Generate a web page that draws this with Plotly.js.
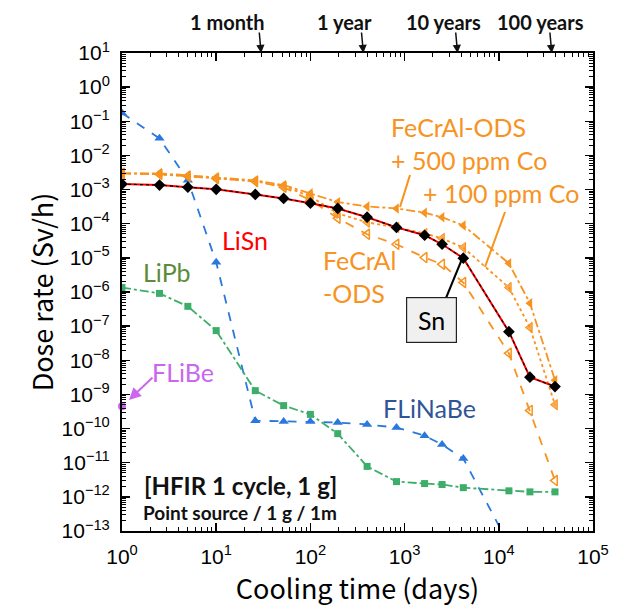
<!DOCTYPE html>
<html>
<head>
<meta charset="utf-8">
<script src="https://cdn.plot.ly/plotly-3.0.1.min.js"></script>
<style>html,body{margin:0;padding:0;background:#fff}#chart{width:631px;height:610px}</style>
</head>
<body>
<div id="chart"></div>
<script>
// ---- data (cooling time in days, dose rate in Sv/h) ----
const coolingDays = [1, 2.5, 5, 10, 26, 52, 100, 195, 400, 820, 1630, 2500, 4200, 12800, 21400, 39500];
const lisnDose    = [1.45e-3, 1.35e-3, 1.17e-3, 1.02e-3, 7.2e-4, 5.5e-4, 4.0e-4, 2.8e-4, 1.55e-4, 7.8e-5, 4.6e-5, 2.5e-5, 9.8e-6, 6.9e-8, 3.2e-9, 1.7e-9];
const snDose      = [1.45e-3, 1.35e-3, 1.17e-3, 1.02e-3, 7.2e-4, 5.5e-4, 4.0e-4, 2.8e-4, 1.55e-4, 7.8e-5, 4.6e-5, 2.5e-5, 9.8e-6, 6.9e-8, 3.2e-9, 1.7e-9];
const fecral500Dose = [3.0e-3, 3.0e-3, 2.6e-3, 2.3e-3, 1.86e-3, 1.35e-3, 7.8e-4, 4.3e-4, 3.2e-4, 2.8e-4, 2.1e-4, 1.55e-4, 8.9e-5, 6.9e-6, 4.7e-7, 2.6e-9];
const fecral100Dose = [3.0e-3, 2.8e-3, 2.45e-3, 2.1e-3, 1.74e-3, 1.26e-3, 6.3e-4, 2.0e-4, 1.1e-4, 7.8e-5, 5.2e-5, 3.7e-5, 2.0e-5, 1.35e-6, 9.1e-8, 5.0e-10];
const fecralDose    = [3.0e-3, 2.8e-3, 2.45e-3, 2.1e-3, 1.74e-3, 1.17e-3, 4.9e-4, 1.45e-4, 4.9e-5, 2.5e-5, 1.02e-5, 6.5e-6, 1.9e-6, 1.6e-8, 3.4e-10, 3.0e-12];
const lipbDose      = [1.35e-6, 9.1e-7, 3.8e-7, 7.4e-8, 1.29e-9, 4.7e-10, 2.6e-10, 7.1e-11, 7.8e-12, 2.8e-12, 2.45e-12, 2.3e-12, 1.86e-12, 1.5e-12, 1.4e-12, 1.4e-12];
const flinabeDays   = [1, 2.5, 5, 10, 26, 52, 100, 195, 400, 820, 1630, 2500, 4200, 12800];
const flinabeDose   = [0.174, 0.0316, 1.86e-3, 7.4e-6, 1.7e-10, 1.62e-10, 1.62e-10, 1.5e-10, 1.32e-10, 1.07e-10, 6.2e-11, 3.4e-11, 1.32e-11, 4e-14];
const flibeDays = [1];
const flibeDose = [4.5e-10];

const yExponents = [1,0,-1,-2,-3,-4,-5,-6,-7,-8,-9,-10,-11,-12,-13];
const xExponents = [0,1,2,3,4,5];
const milestoneLabels = ['1 month', '1 year', '10 years', '100 years'];
const milestoneDays   = [30, 365, 3650, 36500];

// ---- styles ----
const ORANGE = '#F7931E';
const RED = '#FF0000';
const BLUE = '#2A78DE';
const GREEN = '#3DAE6A';

const traces = [
  {x: flinabeDays, y: flinabeDose, mode: 'lines+markers', name: 'FLiNaBe',
   line: {color: BLUE, width: 1.8, dash: 'dash'}, marker: {symbol: 'triangle-up', size: 9, color: BLUE}},
  {x: coolingDays, y: lipbDose, mode: 'lines+markers', name: 'LiPb',
   line: {color: GREEN, width: 1.8, dash: 'dashdot'}, marker: {symbol: 'square', size: 7, color: GREEN}},
  {x: coolingDays, y: fecralDose, mode: 'lines+markers', name: 'FeCrAl-ODS',
   line: {color: ORANGE, width: 1.8, dash: 'dash'}, marker: {symbol: 'triangle-left-open', size: 9, color: ORANGE, line: {width: 1.5, color: ORANGE}}},
  {x: coolingDays, y: fecral100Dose, mode: 'lines+markers', name: '+ 100 ppm Co',
   line: {color: ORANGE, width: 1.8, dash: 'dot'}, marker: {symbol: 'triangle-left', size: 9, color: 'rgba(247,147,30,0.75)', line: {width: 1, color: ORANGE}}},
  {x: coolingDays, y: fecral500Dose, mode: 'lines+markers', name: '+ 500 ppm Co',
   line: {color: ORANGE, width: 1.8, dash: 'dashdot'}, marker: {symbol: 'triangle-left', size: 9, color: ORANGE}},
  {x: coolingDays, y: lisnDose, mode: 'lines', name: 'LiSn',
   line: {color: RED, width: 2}},
  {x: coolingDays, y: snDose, mode: 'lines+markers', name: 'Sn',
   line: {color: '#000', width: 1.2, dash: 'dot'}, marker: {symbol: 'diamond', size: 9, color: '#000'}},
  {x: flibeDays, y: flibeDose, mode: 'markers', name: 'FLiBe', cliponaxis: false,
   marker: {symbol: 'circle', size: 8, color: '#CC66EE'}}
];

// pixel helpers for plot-area (paper) coordinates
const PL = 122, PR = 593, PT = 53, PB = 531;
const px = v => (v - PL) / (PR - PL);
const py = v => (PB - v) / (PB - PT);

const labelFont = {family: 'Lato, "Noto Sans", sans-serif', size: 25};
function lab(x, y, text, color, extra) {
  return Object.assign({xref: 'paper', yref: 'paper', x: px(x), y: py(y), text: text, showarrow: false,
    xanchor: 'center', yanchor: 'middle', font: Object.assign({}, labelFont, {color: color})}, extra || {});
}
const annotations = [
  lab(245, 240, 'LiSn', RED),
  lab(167, 272, 'LiPb', '#5B8C3A'),
  lab(183, 372, 'FLiBe', '#CC66EE'),
  lab(429, 408, 'FLiNaBe', '#2F5597'),
  lab(389, 143, 'FeCrAl-ODS<br>+ 500 ppm Co', ORANGE, {xanchor: 'left', align: 'left'}),
  lab(421, 193, '+ 100 ppm Co', ORANGE, {xanchor: 'left'}),
  lab(321, 276, 'FeCrAl<br>-ODS', ORANGE, {xanchor: 'left', align: 'left'}),
  lab(431.5, 320, 'Sn', '#000', {bgcolor: '#F0F0F0', bordercolor: '#222', borderwidth: 1.2, width: 47, height: 42, borderpad: 1}),
  lab(142, 485, '<b>[HFIR 1 cycle, 1 g]</b>', '#111', {xanchor: 'left', font: {family: 'Lato, sans-serif', size: 24, color: '#111'}}),
  lab(141, 512, '<b>Point source / 1 g / 1m</b>', '#111', {xanchor: 'left', font: {family: 'Lato, sans-serif', size: 19, color: '#111'}}),
  // FLiBe arrow
  {xref: 'paper', yref: 'paper', x: px(129), y: py(400), ax: 25, ay: -24, text: '', showarrow: true,
   arrowhead: 2, arrowsize: 1.2, arrowwidth: 2, arrowcolor: '#CC66EE'}
];
// milestone labels and arrows on top
const textCenters = [227, 344, 443, 540];
milestoneLabels.forEach((m, i) => {
  annotations.push(lab(textCenters[i], 22, '<b>' + m + '</b>', '#111', {font: {family: 'Lato, sans-serif', size: 20, color: '#111'}}));
  annotations.push({xref: 'x', yref: 'paper', x: Math.log10(milestoneDays[i]), y: 1, ax: -2, ay: -22, text: '', showarrow: true,
    arrowhead: 2, arrowsize: 1.1, arrowwidth: 1.5, arrowcolor: '#111'});
});

const shapes = [
  {type: 'line', xref: 'paper', yref: 'paper', x0: px(410), y0: py(175), x1: px(400), y1: py(207), line: {color: ORANGE, width: 2}},
  {type: 'line', xref: 'paper', yref: 'paper', x0: px(505), y0: py(212), x1: px(485), y1: py(267), line: {color: ORANGE, width: 2}},
  {type: 'line', xref: 'paper', yref: 'paper', x0: px(446), y0: py(298), x1: px(462), y1: py(259), line: {color: '#000', width: 2}}
];

const tickFont = {family: '"Liberation Sans", Arial, sans-serif', size: 21, color: '#000'};
const layout = {
  width: 631, height: 610,
  margin: {l: PL, r: 631 - PR, t: PT, b: 610 - PB},
  paper_bgcolor: '#fff', plot_bgcolor: '#fff',
  showlegend: false,
  xaxis: {
    type: 'log', range: [0, 5], showgrid: false, zeroline: false,
    showline: true, linecolor: '#000', linewidth: 2, mirror: 'allticks',
    ticks: 'inside', ticklen: 8, tickwidth: 1.5, tickcolor: '#000',
    tickvals: xExponents.map(e => Math.pow(10, e)),
    ticktext: xExponents.map(e => '10<sup>' + e + '</sup>'),
    tickfont: tickFont, ticklabelstandoff: 6,
    minor: {ticks: 'inside', ticklen: 4, tickwidth: 1, tickcolor: '#000', dtick: 'D1', showgrid: false},
    title: {text: 'Cooling time (days)', font: {family: '"Noto Sans CJK JP", sans-serif', size: 27, color: '#000'}, standoff: 0}
  },
  yaxis: {
    type: 'log', range: [-13, 1], showgrid: false, zeroline: false,
    showline: true, linecolor: '#000', linewidth: 2, mirror: 'allticks',
    ticks: 'inside', ticklen: 8, tickwidth: 1.5, tickcolor: '#000',
    tickvals: yExponents.map(e => Math.pow(10, e)),
    ticktext: yExponents.map(e => '10<sup>' + (e < 0 ? '\u2212' + (-e) : e) + '</sup>'),
    tickfont: tickFont, ticklabelstandoff: 6,
    minor: {ticks: 'inside', ticklen: 4, tickwidth: 1, tickcolor: '#000', dtick: 'D1', showgrid: false},
    title: {text: 'Dose rate (Sv/h)', font: {family: '"Noto Sans CJK JP", sans-serif', size: 27, color: '#000'}, standoff: 0}
  },
  annotations: annotations,
  shapes: shapes
};

Plotly.newPlot('chart', traces, layout, {staticPlot: true, displayModeBar: false});
</script>
</body>
</html>
